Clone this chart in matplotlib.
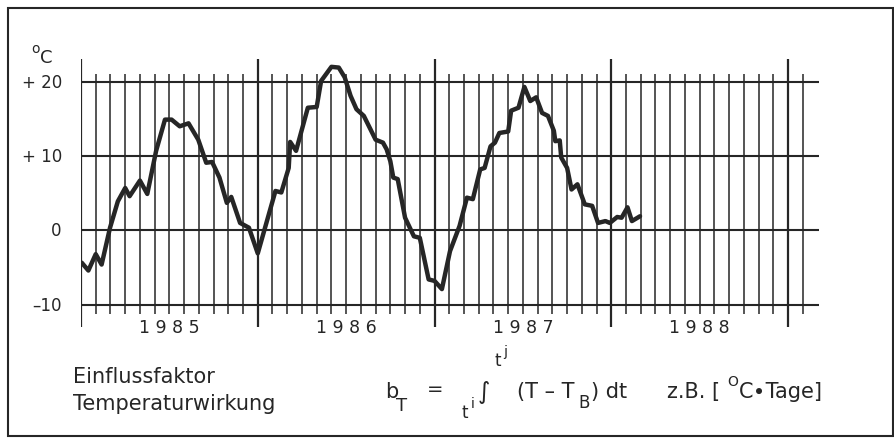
import matplotlib
matplotlib.use("Agg")
from matplotlib import pyplot as plt
from matplotlib.patches import Rectangle

# monthly time axis, month 0 = start of 1985
months = [0.05, 0.5, 1.0, 1.4, 1.97, 2.5, 3.0, 3.3, 4.0, 4.5,
          5.1, 5.7, 6.15, 6.7, 7.3, 7.96, 8.5, 8.9, 9.4, 9.9,
          10.2, 10.8, 11.4, 12.0, 12.5, 13.2, 13.6, 14.1, 14.2, 14.6,
          15.4, 16.0, 16.3, 17.0, 17.5, 17.9, 18.3, 18.7, 19.2, 20.0,
          20.5, 20.75, 21.0, 21.2, 21.5, 22.0, 22.6, 23.0, 23.6, 24.0,
          24.5, 25.05, 25.7, 26.2, 26.6, 27.1, 27.4, 27.8, 28.1, 28.4,
          29.0, 29.2, 29.7, 30.1, 30.5, 30.9, 31.3, 31.7, 32.1, 32.2,
          32.5, 32.6, 33.0, 33.3, 33.7, 34.2, 34.7, 35.1, 35.6, 35.9,
          36.4, 36.7, 37.1, 37.4, 37.95]
temps = [-4.35, -5.4, -3.2, -4.6, 0.35, 3.9, 5.7, 4.6, 6.7, 4.9,
         10.7, 14.9, 14.9, 14.0, 14.4, 12.2, 9.1, 9.2, 7.1, 3.7,
         4.5, 1.0, 0.36, -3.1, 0.4, 5.3, 5.1, 8.4, 11.9, 10.7,
         16.5, 16.6, 20.1, 22.0, 21.9, 20.6, 18.1, 16.3, 15.4, 12.2,
         11.8, 10.9, 9.3, 7.1, 6.9, 1.7, -0.8, -1.0, -6.6, -6.8,
         -7.9, -2.8, 0.6, 4.4, 4.2, 8.2, 8.4, 11.3, 11.8, 13.1,
         13.3, 16.1, 16.5, 19.3, 17.4, 17.9, 15.8, 15.4, 13.4, 12.0,
         12.1, 9.8, 8.4, 5.5, 6.2, 3.5, 3.3, 1.0, 1.25, 1.0,
         1.8, 1.7, 3.1, 1.25, 1.9]

years = ["1 9 8 5", "1 9 8 6", "1 9 8 7", "1 9 8 8"]
y_levels = [20, 10, 0, -10]
y_labels = ["+ 20", "+ 10", "0", "\u201310"]

W, H = 895, 439
INK = "#262626"

plt.rcParams["font.family"] = ["DejaVu Sans"]
fig = plt.figure(figsize=(W / 100, H / 100), dpi=100)


def put(x, y, s, size, **kw):
    # place text by pixel position (top-left origin)
    kw.setdefault("ha", "left")
    kw.setdefault("va", "baseline")
    fig.text(x / W, 1 - y / H, s, fontsize=size, color=INK, **kw)


# axes box in pixels: months 0..50.1, values -13..23
left, right = 81, 819
top, bottom = 60.4, 328
ax = fig.add_axes([left / W, 1 - bottom / H, (right - left) / W, (bottom - top) / H])
ax.set_xlim(0, 50.1)
ax.set_ylim(-13, 23)
ax.axis("off")

# grid
for m in range(50):
    if m % 12 == 0:
        ax.plot([m, m], [-13, 23], color=INK, lw=1.6, solid_capstyle="butt")
    else:
        ax.plot([m, m], [-11.25, 21.0], color=INK, lw=1.1, solid_capstyle="butt")
for v in y_levels:
    ax.plot([0, 50.1], [v, v], color=INK, lw=1.5, solid_capstyle="butt")

# temperature curve
ax.plot(months, temps, color=INK, lw=3.2, solid_joinstyle="round", solid_capstyle="round")

# y labels
for v, lab in zip(y_levels, y_labels):
    ax.text(-1.3, v, lab, ha="right", va="center", fontsize=12, color=INK)
put(31, 53, "o", 10)
put(40, 63, "C", 13)

# year labels
for i, yr in enumerate(years):
    ax.text(i * 12 + 6, -13, yr, ha="center", va="center", fontsize=12.5, color=INK)

# description
put(73, 383, "Einflussfaktor", 15)
put(73, 410, "Temperaturwirkung", 15)

# formula
put(385, 398, "b", 15)
put(396, 411, "T", 13)
put(427, 395, "=", 14)
put(462, 418, "t", 12)
put(471, 408, "i", 10)
put(478, 399, "\u222b", 17)
put(495, 366, "t", 12)
put(503, 356, "j", 10)
put(517, 398, "(T \u2013 T", 15)
put(578, 408, "B", 12)
put(591, 398, ") dt", 15)
put(667, 398, "z.B. [", 15)
put(727, 386, "O", 10)
put(739, 398, "C\u2219Tage]", 15)

# outer frame
fig.add_artist(Rectangle((8 / W, 1 - 437 / H), (893 - 8) / W, (437 - 9) / H,
                         transform=fig.transFigure, fill=False, ec=INK, lw=1.5))

fig.savefig("out.png", dpi=100)
